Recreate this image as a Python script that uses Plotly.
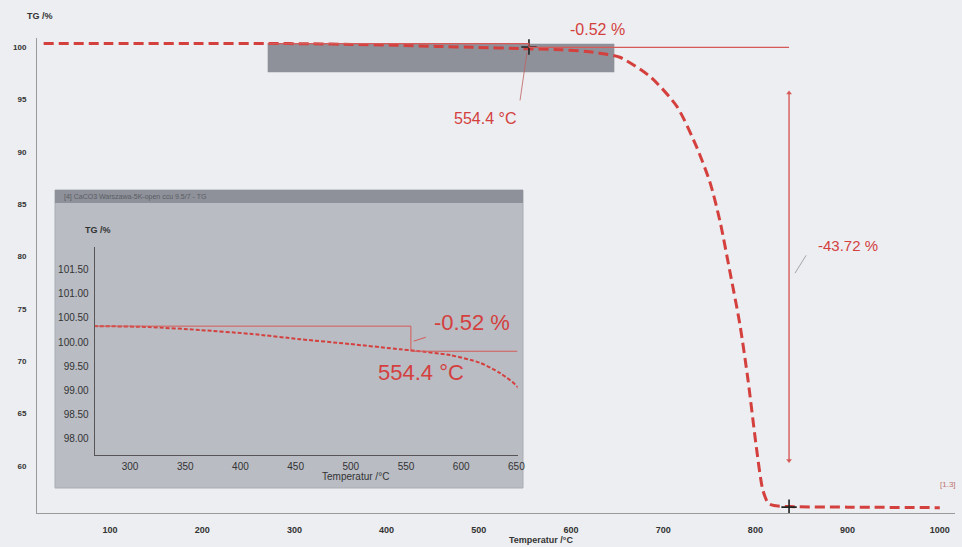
import plotly.graph_objects as go

# ---------------- data ----------------
temperature = [28, 100, 200, 272, 318, 363, 409, 454, 499, 545, 558, 590, 617, 635, 653,
               686, 715, 736, 751, 762, 772, 783, 792, 801, 808, 814, 820, 838, 900, 1000]
tg = [100.33, 100.33, 100.33, 100.33, 100.31, 100.25, 100.17, 100.06, 99.96, 99.85, 99.82,
      99.73, 99.57, 99.36, 99.02, 97.16, 94.3, 90.5, 87.0, 83.2, 78.7, 73.6, 68.2, 61.8,
      57.7, 56.4, 56.2, 56.1, 56.05, 56.0]

main_xticks = [100, 200, 300, 400, 500, 600, 700, 800, 900, 1000]
main_yticks = [60, 65, 70, 75, 80, 85, 90, 95, 100]
inset_xticks = [300, 350, 400, 450, 500, 550, 600, 650]
inset_yticks = [98.0, 98.5, 99.0, 99.5, 100.0, 100.5, 101.0, 101.5]

onset_temp = 554.4
level_before = 100.33
level_after = 99.81
step_small = "-0.52 %"
step_large = "-43.72 %"
step_large_temp = 836.5
step_large_top = 95.6
step_large_bottom = 60.5
end_level = 56.05
zoom_window = [271, 647]

RED = "#d4403e"
RED_THIN = "#d65a58"
BG = "#eceef1"
PANEL = "#b9bcc3"
BAR = "#8e9199"
TXT = "#333333"

fig = go.Figure()

# main curve
fig.add_trace(go.Scatter(x=temperature, y=tg, mode="lines",
                         line=dict(color=RED, width=3, dash="10px,5px", shape="spline", smoothing=0.7),
                         xaxis="x", yaxis="y", showlegend=False, hoverinfo="skip"))
# markers (+)
fig.add_trace(go.Scatter(x=[onset_temp, step_large_temp], y=[100.0, end_level], mode="markers",
                         marker=dict(symbol="cross-thin", size=11, line=dict(color="#222", width=1.6)),
                         xaxis="x", yaxis="y", showlegend=False, hoverinfo="skip"))
# arrow tips for the -43.72 % bracket
fig.add_trace(go.Scatter(x=[step_large_temp, step_large_temp], y=[step_large_top, step_large_bottom],
                         mode="markers",
                         marker=dict(symbol=["triangle-up", "triangle-down"], size=5, color=RED_THIN),
                         xaxis="x", yaxis="y", showlegend=False, hoverinfo="skip"))

# inset curve
fig.add_trace(go.Scatter(x=temperature, y=tg, mode="lines",
                         line=dict(color=RED, width=2, dash="4px,2px", shape="spline", smoothing=0.7),
                         xaxis="x2", yaxis="y2", showlegend=False, hoverinfo="skip"))

# ---------------- layout geometry ----------------
L, R, T, B = 37, 7, 38, 34
W, H = 962, 547
pw, ph = W - L - R, H - T - B


def px_x(p):
    return (p - L) / pw


def px_y(p):
    return (H - B - p) / ph


shapes = []
# inset panel
shapes.append(dict(type="rect", xref="paper", yref="paper", x0=px_x(55), x1=px_x(523),
                   y0=px_y(488), y1=px_y(190), fillcolor=PANEL, line=dict(color="#a9acb3", width=1),
                   layer="below"))
shapes.append(dict(type="rect", xref="paper", yref="paper", x0=px_x(55), x1=px_x(523),
                   y0=px_y(203), y1=px_y(190), fillcolor=BAR, line=dict(width=0), layer="below"))
# zoom window rect in main plot
shapes.append(dict(type="rect", xref="x", yref="y", x0=zoom_window[0], x1=zoom_window[1],
                   y0=97.6, y1=100.3, fillcolor=BAR, line=dict(width=0), layer="below"))
# main step line (-0.52 %)
shapes.append(dict(type="line", xref="x", yref="y", x0=zoom_window[0], x1=onset_temp,
                   y0=level_before, y1=level_before, line=dict(color=RED_THIN, width=1.2)))
shapes.append(dict(type="line", xref="x", yref="y", x0=onset_temp, x1=onset_temp,
                   y0=level_before, y1=level_after + 0.15, line=dict(color=RED_THIN, width=1.2)))
shapes.append(dict(type="line", xref="x", yref="y", x0=onset_temp, x1=step_large_temp,
                   y0=level_after + 0.15, y1=level_after + 0.15, line=dict(color=RED_THIN, width=1.2)))
# leader line to 554.4 °C
shapes.append(dict(type="line", xref="x", yref="y", x0=552.3, x1=544.7, y0=99.5, y1=94.9,
                   line=dict(color="#c06060", width=0.8)))
# vertical bracket -43.72 %
shapes.append(dict(type="line", xref="x", yref="y", x0=step_large_temp, x1=step_large_temp,
                   y0=step_large_top, y1=step_large_bottom, line=dict(color=RED_THIN, width=1.4)))
# leader line to -43.72 %
shapes.append(dict(type="line", xref="x", yref="y", x0=843, x1=855, y0=78.4, y1=80.1,
                   line=dict(color="#909090", width=0.8)))
# inset step line
shapes.append(dict(type="line", xref="x2", yref="y2", x0=268, x1=onset_temp,
                   y0=level_before, y1=level_before, line=dict(color=RED_THIN, width=1)))
shapes.append(dict(type="line", xref="x2", yref="y2", x0=onset_temp, x1=onset_temp,
                   y0=level_before, y1=level_after, line=dict(color=RED_THIN, width=1)))
shapes.append(dict(type="line", xref="x2", yref="y2", x0=onset_temp, x1=651,
                   y0=level_after, y1=level_after, line=dict(color=RED_THIN, width=1)))
shapes.append(dict(type="line", xref="x2", yref="y2", x0=557, x1=568, y0=100.02, y1=100.1,
                   line=dict(color=RED_THIN, width=1)))

annotations = [
    dict(text="<b>TG /%</b>", xref="paper", yref="paper", x=px_x(25), y=px_y(16), xanchor="left",
         yanchor="middle", showarrow=False, font=dict(size=9, color=TXT, family="Arial")),
    dict(text="<b>Temperatur /°C</b>", xref="paper", yref="paper", x=px_x(541), y=px_y(540),
         xanchor="center", yanchor="middle", showarrow=False, font=dict(size=9, color=TXT, family="Arial")),
    dict(text=step_small, xref="paper", yref="paper", x=px_x(597), y=px_y(29), showarrow=False,
         xanchor="center", yanchor="middle", font=dict(size=16, color=RED, family="Arial")),
    dict(text=f"{onset_temp} °C", xref="x", yref="y", x=506.5, y=93.2, showarrow=False,
         xanchor="center", yanchor="middle", font=dict(size=16, color=RED, family="Arial")),
    dict(text=step_large, xref="x", yref="y", x=900.5, y=81.0, showarrow=False,
         xanchor="center", yanchor="middle", font=dict(size=15, color=RED, family="Arial")),
    dict(text="[1.3]", xref="x", yref="y", x=1009, y=58.2, showarrow=False,
         xanchor="center", yanchor="middle", font=dict(size=8, color="#c07070", family="Arial")),
    # inset
    dict(text="[4] CaCO3 Warszawa-5K-open ccu 9.5/7 - TG", xref="paper", yref="paper",
         x=px_x(62), y=px_y(196.5), xanchor="left", yanchor="middle", showarrow=False,
         font=dict(size=7, color="#5a5d64", family="Arial")),
    dict(text="<b>TG /%</b>", xref="paper", yref="paper", x=px_x(83), y=px_y(230), xanchor="left",
         yanchor="middle", showarrow=False, font=dict(size=9, color=TXT, family="Arial")),
    dict(text="Temperatur /°C", xref="paper", yref="paper", x=px_x(355), y=px_y(476),
         xanchor="center", yanchor="middle", showarrow=False, font=dict(size=10, color=TXT, family="Arial")),
    dict(text=step_small, xref="x2", yref="y2", x=610, y=100.4, showarrow=False,
         xanchor="center", yanchor="middle", font=dict(size=22, color=RED, family="Arial")),
    dict(text=f"{onset_temp} °C", xref="x2", yref="y2", x=564, y=99.36, showarrow=False,
         xanchor="center", yanchor="middle", font=dict(size=22, color=RED, family="Arial")),
]

fig.update_layout(
    width=W, height=H,
    margin=dict(l=L, r=R, t=T, b=B, autoexpand=False),
    paper_bgcolor=BG, plot_bgcolor="rgba(0,0,0,0)",
    showlegend=False,
    font=dict(family="Arial", color=TXT),
    xaxis=dict(domain=[0, 1], range=[20.8, 1016.5], tickvals=main_xticks,
               ticktext=[f"<b>{v}</b>" for v in main_xticks], showgrid=False, zeroline=False,
               showline=True, linecolor="#9a9a9a", linewidth=1, ticks="", automargin=False,
               ticklabelstandoff=8, tickfont=dict(size=9, color=TXT, family="Arial")),
    yaxis=dict(domain=[0, 1], range=[55.49, 100.86], tickvals=main_yticks,
               ticktext=[f"<b>{v}</b>" for v in main_yticks], showgrid=False, zeroline=False,
               showline=True, linecolor="#9a9a9a", linewidth=1, ticks="", automargin=False,
               ticklabelstandoff=8, tickfont=dict(size=8, color=TXT, family="Arial")),
    xaxis2=dict(domain=[px_x(94.7), px_x(517.5)], range=[268, 651], anchor="y2",
                tickvals=inset_xticks, ticktext=[str(v) for v in inset_xticks], automargin=False,
                showgrid=False, zeroline=False, showline=True, linecolor="#555", linewidth=1,
                ticks="", ticklabelstandoff=2, tickfont=dict(size=10, color=TXT, family="Arial")),
    yaxis2=dict(domain=[px_y(455), px_y(247)], range=[97.66, 101.97], anchor="x2",
                tickvals=inset_yticks, ticktext=[f"{v:.2f}" for v in inset_yticks], automargin=False,
                showgrid=False, zeroline=False, showline=True, linecolor="#555", linewidth=1,
                ticks="", ticklabelstandoff=3, tickfont=dict(size=10, color=TXT, family="Arial")),
    shapes=shapes,
    annotations=annotations,
)

fig.write_html("out.html")
